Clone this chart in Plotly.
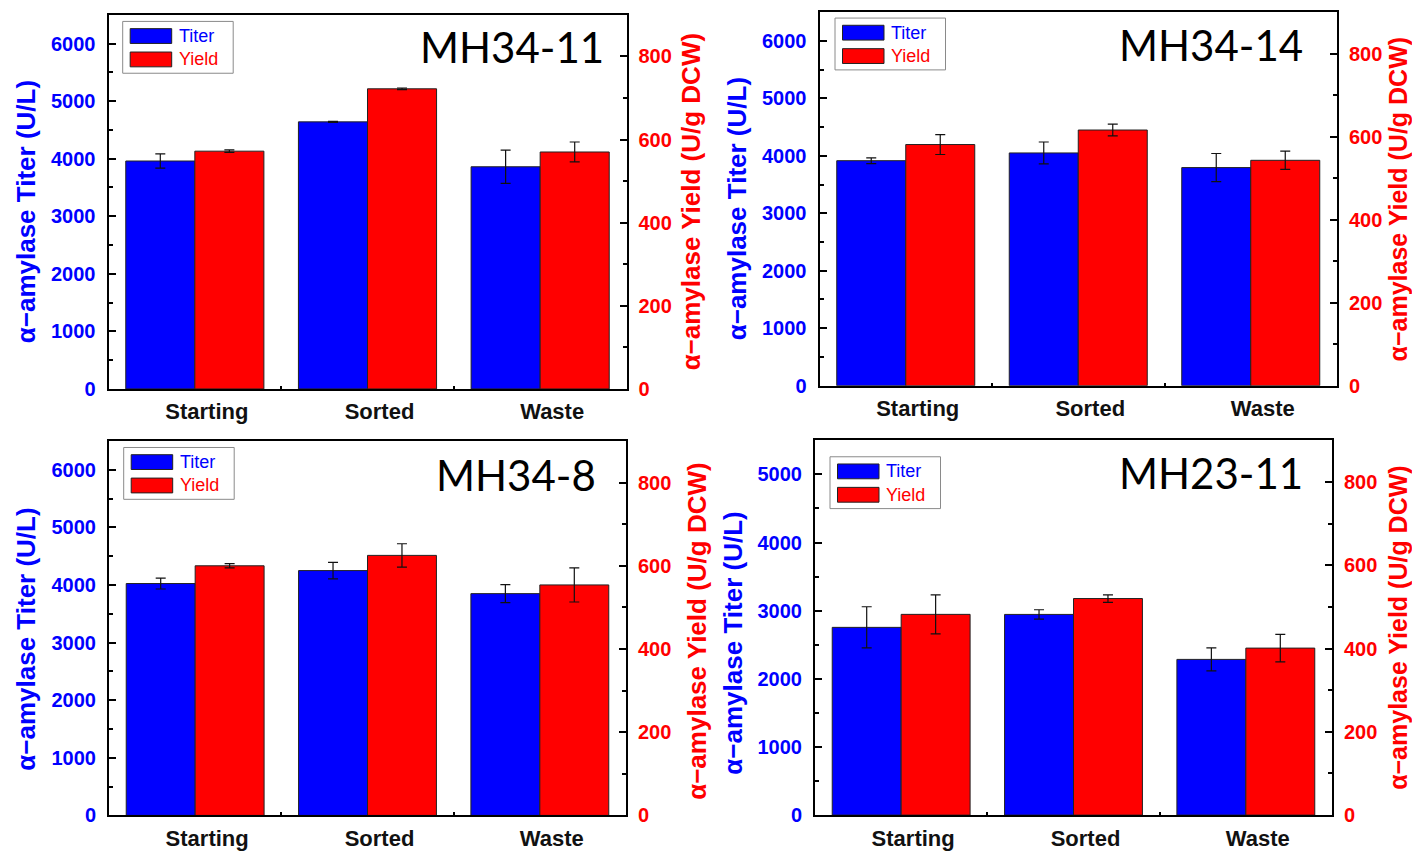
import plotly.graph_objects as go

# ---- data -------------------------------------------------------------
categories = ["Starting", "Sorted", "Waste"]
strains = ["MH34-11", "MH34-14", "MH34-8", "MH23-11"]

titer_mh34_11 = [3960, 4640, 3860]
titer_err_mh34_11 = [123, 8, 290]
yield_mh34_11 = [572, 722, 570]
yield_err_mh34_11 = [3, 2, 24]

titer_mh34_14 = [3915, 4050, 3795]
titer_err_mh34_14 = [50, 190, 245]
yield_mh34_14 = [581, 616, 543]
yield_err_mh34_14 = [24, 14, 22]

titer_mh34_8 = [4025, 4250, 3850]
titer_err_mh34_8 = [95, 143, 157]
yield_mh34_8 = [600, 625, 554]
yield_err_mh34_8 = [5, 28, 41]

titer_mh23_11 = [2755, 2945, 2285]
titer_err_mh23_11 = [302, 68, 169]
yield_mh23_11 = [482, 520, 401]
yield_err_mh23_11 = [47, 9, 33]

titer_ranges = [[0, 6500], [0, 6500], [0, 6500], [0, 5500]]
yield_range = [0, 900]

# ---- layout geometry (pixels) ------------------------------------------
W, H = 1412, 858
BLUE, RED = "#0000ff", "#ff0000"
TICK_FONT = "Liberation Sans, Arial, sans-serif"

panels = [
    dict(name=strains[0], titer=titer_mh34_11, terr=titer_err_mh34_11,
         yld=yield_mh34_11, yerr=yield_err_mh34_11,
         frame=(108.5, 626.5, 15, 394), label=(606, 48),
         legend=(122.7, 21.7), ltitle=(26, 215), rtitle=(691, 205, 26)),
    dict(name=strains[1], titer=titer_mh34_14, terr=titer_err_mh34_14,
         yld=yield_mh34_14, yerr=yield_err_mh34_14,
         frame=(819.5, 1337, 12.3, 390.7), label=(1305, 46),
         legend=(835, 18.3), ltitle=(737, 212), rtitle=(1398, 202, 25)),
    dict(name=strains[2], titer=titer_mh34_8, terr=titer_err_mh34_8,
         yld=yield_mh34_8, yerr=yield_err_mh34_8,
         frame=(109, 626, 446.7, 826), label=(598, 481),
         legend=(123.7, 453.3), ltitle=(26, 648), rtitle=(697, 640, 26)),
    dict(name=strains[3], titer=titer_mh23_11, terr=titer_err_mh23_11,
         yld=yield_mh23_11, yerr=yield_err_mh23_11,
         frame=(815, 1332, 446, 825.7), label=(1305, 479.5),
         legend=(830, 462.7), ltitle=(733, 652), rtitle=(1398, 636, 25)),
]


def px(x):
    return x / W


def py(y):
    return 1 - y / H


fig = go.Figure()
layout = dict(
    width=W, height=H, margin=dict(l=0, r=0, t=0, b=0),
    paper_bgcolor="white", plot_bgcolor="white",
    barmode="group", bargap=0.2, bargroupgap=0.0,
    showlegend=False,
)
shapes, annotations = [], []

for i, p in enumerate(panels):
    xi = i + 1
    yl = 2 * i + 1
    yr = 2 * i + 2
    xname = "xaxis" if xi == 1 else f"xaxis{xi}"
    ylname = "yaxis" if yl == 1 else f"yaxis{yl}"
    yrname = f"yaxis{yr}"
    xref = "x" if xi == 1 else f"x{xi}"
    ylref = "y" if yl == 1 else f"y{yl}"
    yrref = f"y{yr}"
    x0, x1, top, bottom = p["frame"]

    # Titer on the left axis, yield on the right axis; each trace is
    # offset so the pair sits side by side inside one category slot.
    fig.add_trace(go.Bar(
        x=categories, y=p["titer"], name="Titer",
        xaxis=xref, yaxis=ylref, offsetgroup="a", width=0.4, offset=-0.4,
        marker=dict(color=BLUE, line=dict(color="#222222", width=1)),
        error_y=dict(type="data", array=p["terr"], color="#111111",
                     thickness=1.2, width=5),
    ))
    fig.add_trace(go.Bar(
        x=categories, y=p["yld"], name="Yield",
        xaxis=xref, yaxis=yrref, offsetgroup="b", width=0.4, offset=0.0,
        marker=dict(color=RED, line=dict(color="#222222", width=1)),
        error_y=dict(type="data", array=p["yerr"], color="#111111",
                     thickness=1.2, width=5),
    ))

    layout[xname] = dict(
        domain=[px(x0), px(x1)], anchor=ylref, type="category",
        range=[-0.5, 2.5], showline=True, linecolor="black", linewidth=2,
        mirror=True, ticks="inside", ticklen=3, tickwidth=1.5,
        tickcolor="black", tickson="boundaries", showgrid=False,
        tickfont=dict(family=TICK_FONT, size=22, color="#111111",
                      weight="bold"),
        ticklabelshift=12, ticklabelstandoff=2, fixedrange=True,
    )
    layout[ylname] = dict(
        domain=[py(bottom), py(top)], anchor=xref, range=titer_ranges[i],
        showline=True, linecolor="black", linewidth=2, showgrid=False,
        zeroline=False, ticks="inside", ticklen=7, tickwidth=1.5,
        tickcolor="black", dtick=1000,
        minor=dict(ticks="inside", ticklen=4, dtick=500, tickcolor="black",
                   tickwidth=1.5),
        tickfont=dict(family=TICK_FONT, size=20, color=BLUE, weight="bold"),
        ticklabelstandoff=7, fixedrange=True,
    )
    layout[yrname] = dict(
        domain=[py(bottom), py(top)], anchor=xref, overlaying=ylref,
        side="right", range=yield_range,
        showline=True, linecolor="black", linewidth=2, showgrid=False,
        zeroline=False, ticks="inside", ticklen=7, tickwidth=1.5,
        tickcolor="black", dtick=200,
        minor=dict(ticks="inside", ticklen=4, dtick=100, tickcolor="black",
                   tickwidth=1.5),
        tickfont=dict(family=TICK_FONT, size=20, color=RED, weight="bold"),
        ticklabelstandoff=6, fixedrange=True,
    )

    # axis titles
    annotations.append(dict(
        x=px(p["ltitle"][0]), y=py(p["ltitle"][1]), xref="paper", yref="paper",
        text="α−amylase Titer (U/L)", textangle=-90, showarrow=False,
        xanchor="center", yanchor="middle",
        font=dict(family=TICK_FONT, size=26, color=BLUE, weight="bold"),
    ))
    rx, ry, rsize = p["rtitle"]
    annotations.append(dict(
        x=px(rx), y=py(ry), xref="paper", yref="paper",
        text="α−amylase Yield (U/g DCW)", textangle=-90, showarrow=False,
        xanchor="center", yanchor="middle",
        font=dict(family=TICK_FONT, size=rsize, color=RED, weight="bold"),
    ))

    # strain label
    annotations.append(dict(
        x=px(p["label"][0]), y=py(p["label"][1]), xref="paper", yref="paper",
        text=p["name"], showarrow=False, xanchor="right", yanchor="middle",
        font=dict(family="Lato, Open Sans, sans-serif", size=42,
                  color="black"),
    ))

    # legend box with two swatches
    lx, ly = p["legend"]
    shapes.append(dict(
        type="rect", xref="paper", yref="paper",
        x0=px(lx), x1=px(lx + 110.5), y0=py(ly + 52.5), y1=py(ly),
        line=dict(color="#8a8a8a", width=1), fillcolor="white", layer="above",
    ))
    for k, (nm, col) in enumerate([("Titer", BLUE), ("Yield", RED)]):
        sy = ly + 7.3 + 23.7 * k
        shapes.append(dict(
            type="rect", xref="paper", yref="paper",
            x0=px(lx + 7.5), x1=px(lx + 49), y0=py(sy + 15), y1=py(sy),
            line=dict(color="#222222", width=1), fillcolor=col, layer="above",
        ))
        annotations.append(dict(
            x=px(lx + 54), y=py(sy + 7.5), xref="paper", yref="paper",
            text=nm, showarrow=False, xanchor="left", yanchor="middle",
            font=dict(family=TICK_FONT, size=18, color=col),
        ))

layout["shapes"] = shapes
layout["annotations"] = annotations
fig.update_layout(**layout)

fig.write_html("out.html")
